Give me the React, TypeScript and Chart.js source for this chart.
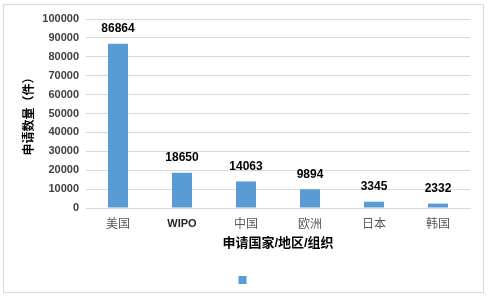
import React, { useEffect, useRef } from "react";
import { Chart, registerables } from "chart.js";

Chart.register(...registerables);

const categories = ["美国", "WIPO", "中国", "欧洲", "日本", "韩国"];
const values = [86864, 18650, 14063, 9894, 3345, 2332];
const yTicks = [0, 10000, 20000, 30000, 40000, 50000, 60000, 70000, 80000, 90000, 100000];

const CJK = '"Liberation Sans", Arial, "Noto Sans CJK SC", sans-serif';

const borderPlugin = {
  id: "frameBorder",
  afterLayout(chart: any) {
    if (chart.legend) {
      chart.legend.left += 9;
      chart.legend.right += 9;
    }
  },
  beforeDraw(chart: any) {
    const ctx = chart.ctx;
    ctx.save();
    ctx.fillStyle = "#ffffff";
    ctx.fillRect(0, 0, chart.width, chart.height);
    ctx.strokeStyle = "#d9d9d9";
    ctx.lineWidth = 1;
    ctx.strokeRect(3.5, 4.5, 480, 288);
    ctx.restore();
  },
};

const dataLabelPlugin = {
  id: "dataLabels",
  afterDatasetsDraw(chart: any) {
    const ctx = chart.ctx;
    const meta = chart.getDatasetMeta(0);
    ctx.save();
    ctx.font = `bold 12px ${CJK}`;
    ctx.fillStyle = "#000000";
    ctx.textAlign = "center";
    ctx.textBaseline = "middle";
    meta.data.forEach((bar: any, i: number) => {
      ctx.fillText(String(values[i]), bar.x, bar.y - 15);
    });
    ctx.restore();
  },
};

export default function App() {
  const ref = useRef<HTMLCanvasElement>(null);
  useEffect(() => {
    document.body.style.margin = "0";
    const chart = new Chart(ref.current as HTMLCanvasElement, {
      type: "bar",
      data: {
        labels: categories,
        datasets: [
          {
            label: "",
            data: values,
            backgroundColor: "#5b9bd5",
            barPercentage: 0.3125,
            categoryPercentage: 1,
          },
        ],
      },
      options: {
        responsive: false,
        animation: false,
        layout: { padding: { top: 19, right: 19, left: 3, bottom: 1 } },
        plugins: {
          tooltip: { enabled: false },
          legend: {
            display: true,
            position: "bottom",
            labels: {
              boxWidth: 8,
              boxHeight: 8,
              padding: 23,
              font: { size: 12, family: CJK },
              color: "#595959",
            },
          },
        },
        scales: {
          x: {
            grid: { display: false },
            border: { display: true, color: "#d9d9d9" },
            ticks: {
              padding: 1,
              color: (c: any) => (c.index === 1 ? "#262626" : "#595959"),
              font: (c: any) =>
                c.index === 1
                  ? { size: 11, weight: "bold", family: CJK }
                  : { size: 12, family: CJK },
            },
            title: {
              display: true,
              text: "申请国家/地区/组织",
              color: "#000000",
              font: { size: 13, weight: "bold", family: CJK },
              padding: { top: 0, bottom: 0 },
            },
            afterFit(scale: any) {
              scale.height = 43;
            },
          },
          y: {
            min: 0,
            max: 100000,
            afterBuildTicks(scale: any) {
              scale.ticks = yTicks.map((v) => ({ value: v }));
            },
            grid: { color: "#d9d9d9", drawTicks: false },
            border: { display: false },
            ticks: {
              padding: 7,
              color: "#404040",
              font: { size: 11, weight: "bold", family: CJK },
              callback: (v: any) => String(v),
            },
            title: {
              display: true,
              text: "申请数量（件）",
              color: "#000000",
              font: { size: 12, weight: "bold", family: CJK },
              padding: { top: 19, bottom: 0 },
            },
            afterFit(scale: any) {
              scale.width = 83;
            },
          },
        },
      },
      plugins: [borderPlugin, dataLabelPlugin],
    });
    return () => chart.destroy();
  }, []);
  return <canvas ref={ref} width={489} height={297} style={{ display: "block" }} />;
}
